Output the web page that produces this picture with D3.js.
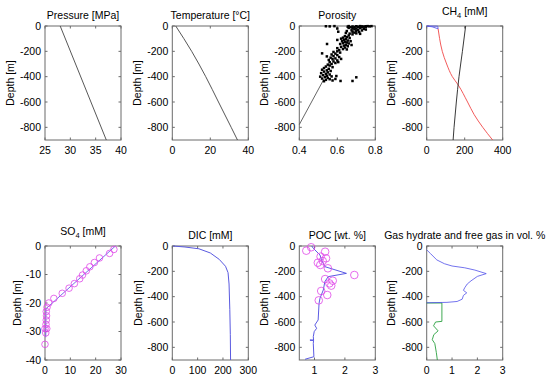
<!DOCTYPE html>
<html>
<head>
<meta charset="utf-8">
<script src="https://cdn.jsdelivr.net/npm/d3@7"></script>
<style>
  body { margin: 0; background: #fff; }
  text { font-family: "Liberation Sans", Arial, sans-serif; fill: #000; }
</style>
</head>
<body>
<div id="chart"></div>
<script>
// Data: [value, depth]
const pressure = [[28.0, 0], [37.1, -900]];
const temperature = [[1.8, 0], [10.2, -200], [17.6, -400], [24.3, -600], [31.0, -800], [34.3, -900]];
const porosityModel = [[0.40, -778], [0.53, -418]];
const porosityData = [
  [0.54,-2],[0.56,-3],[0.585,-1],[0.66,-1],[0.68,-4],[0.70,-2],[0.71,-6],[0.72,-1],[0.73,-3],[0.74,-5],
  [0.75,-2],[0.76,-1],[0.77,-3],[0.78,-1],[0.69,-8],[0.73,-9],[0.75,-7],[0.655,-6],[0.67,-10],[0.72,-12],
  [0.66,-15],[0.68,-18],[0.70,-20],[0.72,-16],[0.74,-22],[0.69,-26],[0.71,-30],[0.675,-34],[0.70,-38],[0.73,-35],
  [0.65,-40],[0.68,-45],[0.715,-48],[0.69,-52],[0.70,-58],[0.665,-60],[0.72,-62],[0.68,-66],[0.645,-55],[0.75,-28],
  [0.60,-20],[0.605,-45],
  [0.66,-75],[0.64,-80],[0.65,-88],[0.63,-92],[0.665,-95],[0.62,-100],[0.645,-104],[0.635,-110],[0.655,-115],[0.625,-120],
  [0.64,-125],[0.65,-130],[0.63,-135],[0.66,-138],[0.615,-142],[0.645,-148],[0.635,-155],[0.655,-160],[0.62,-165],[0.64,-170],
  [0.60,-175],[0.63,-182],[0.61,-190],[0.65,-185],[0.675,-150],[0.67,-120],[0.546,-142],[0.60,-110],
  [0.60,-200],[0.58,-205],[0.615,-210],[0.59,-218],[0.57,-225],[0.60,-230],[0.58,-238],[0.61,-245],[0.565,-250],[0.59,-256],
  [0.575,-262],[0.555,-268],[0.60,-272],[0.58,-280],[0.56,-286],[0.59,-292],[0.57,-300],[0.55,-305],[0.62,-260],[0.52,-216],
  [0.545,-240],[0.605,-285],
  [0.56,-312],[0.54,-320],[0.575,-325],[0.53,-332],[0.555,-338],[0.52,-345],[0.545,-350],[0.565,-355],[0.53,-360],[0.55,-366],
  [0.515,-372],[0.54,-378],[0.56,-383],[0.525,-388],[0.545,-393],[0.57,-398],[0.535,-403],[0.55,-410],[0.52,-415],[0.56,-420],
  [0.54,-425],[0.575,-430],[0.59,-418],[0.595,-395],[0.51,-400],[0.53,-436],[0.617,-434],[0.68,-434],[0.70,-405]
];
const ch4Black = [[205, 0], [188, -200], [170, -400], [156, -600], [144, -800], [139, -900]];
const ch4Red = [[60, -22], [68, -100], [82, -200], [105, -300], [135, -400], [166, -466], [215, -600], [250, -700], [295, -800], [347, -900]];
const ch4Blue = [[0, 0], [58, -1], [60, -22], [28, -6], [0, -1]];
const so4Model = [[27.8, 0], [0.4, -22], [0.3, -32]];
const so4Data = [
  [27.2,-1.2],[25.5,-2.6],[21.5,-4.2],[19.5,-5.8],[17.7,-7.3],[16.3,-8.7],[14.8,-10.2],[13.7,-11.5],[11.6,-13.2],[9.5,-14.8],
  [6.8,-16.6],[3.5,-18.4],[1.5,-20],[0.8,-21.5],[0.5,-23],[0.6,-24.5],[0.5,-26],[0.4,-27.5],[0.7,-29],[0.0,-29],[0.3,-30.5],[0,-34.5]
];
const dic = [[3, 0], [50, -8], [105, -22], [150, -55], [185, -105], [210, -160], [220, -210], [224, -300], [227, -500], [229, -700], [230, -900]];
const pocModel = [
  [0.91,0],[0.96,-18],[1.18,-71],[1.23,-110],[1.34,-163],[2.05,-216],[1.45,-242],[1.34,-282],[1.29,-347],[1.18,-413],
  [1.15,-453],[1.12,-584],[1.01,-624],[1.07,-650],[0.99,-676],[0.96,-716],[0.97,-743],[0.85,-743],[0.97,-745],[0.96,-768],[0.98,-874],[0.69,-894]
];
const pocData = [
  [0.73,-37],[0.89,-10],[1.35,-45],[1.2,-84],[1.38,-97],[1.27,-118],[1.11,-132],[1.19,-150],[1.44,-176],[2.31,-229],
  [1.35,-261],[1.6,-274],[1.49,-295],[1.55,-313],[1.42,-387],[1.22,-355],[1.14,-429]
];
const hydrate = [
  [0,-30],[0.15,-60],[0.4,-110],[0.7,-140],[1.0,-158],[1.5,-172],[1.9,-190],[2.35,-218],[2.0,-240],[1.75,-275],
  [1.6,-300],[1.5,-330],[1.45,-350],[1.58,-370],[1.45,-390],[1.4,-420],[1.2,-438],[0.8,-445],[0,-448]
];
const freeGas = [[0,-450],[0.6,-450],[0.6,-595],[0.35,-600],[0.27,-630],[0.45,-670],[0.28,-700],[0.22,-740],[0.32,-770],[0.38,-840],[0.42,-900]];

const depthTicks = [0, -200, -400, -600, -800];
const so4DepthTicks = [0, -10, -20, -30, -40];

const W = 550, H = 379;
const colX = [45, 172.3, 299.3, 426.7];
const rowY = [26, 246];
const pw = 76, ph = 114;
const axisColor = "#6b6b6b";

const svg = d3.select("#chart").append("svg")
  .attr("width", W).attr("height", H);

function panel(opt) {
  const x0 = colX[opt.col], y0 = rowY[opt.row];
  const x = d3.scaleLinear().domain(opt.xDomain).range([x0, x0 + pw]);
  const y = d3.scaleLinear().domain(opt.yDomain).range([y0 + ph, y0]);
  const g = svg.append("g");

  // box with inward ticks on all four sides
  g.append("rect").attr("x", x0).attr("y", y0).attr("width", pw).attr("height", ph)
    .attr("fill", "none").attr("stroke", axisColor).attr("stroke-width", 1);
  const tl = 2.5;
  opt.xTicks.forEach(t => {
    const px = x(t);
    g.append("line").attr("x1", px).attr("x2", px).attr("y1", y0 + ph).attr("y2", y0 + ph - tl).attr("stroke", axisColor);
    g.append("line").attr("x1", px).attr("x2", px).attr("y1", y0).attr("y2", y0 + tl).attr("stroke", axisColor);
    g.append("text").attr("x", px).attr("y", y0 + ph + 13.5)
      .attr("text-anchor", "middle").style("font-size", "10.5px").text(t);
  });
  opt.yTicks.forEach(t => {
    const py = y(t);
    g.append("line").attr("x1", x0).attr("x2", x0 + tl).attr("y1", py).attr("y2", py).attr("stroke", axisColor);
    g.append("line").attr("x1", x0 + pw).attr("x2", x0 + pw - tl).attr("y1", py).attr("y2", py).attr("stroke", axisColor);
    g.append("text").attr("x", x0 - 4).attr("y", py + 3.8)
      .attr("text-anchor", "end").style("font-size", "10.5px").text(t);
  });

  // y label
  const lx = x0 - opt.labelOff, ly = y0 + ph / 2;
  g.append("text").attr("transform", `translate(${lx},${ly}) rotate(-90)`)
    .attr("text-anchor", "middle").attr("dy", "0.35em").style("font-size", "10.5px").text("Depth [m]");

  // title
  const cx = x0 + pw / 2;
  const tt = g.append("text").attr("x", cx).attr("text-anchor", "middle").style("font-size", "10.5px");
  if (opt.sub) {
    tt.attr("y", y0 - 11.5);
    tt.append("tspan").text(opt.title[0]);
    tt.append("tspan").attr("dy", 3).style("font-size", "7.5px").text(opt.title[1]);
    tt.append("tspan").attr("dy", -3).text(opt.title[2]);
  } else {
    tt.attr("y", y0 - 7.5).text(opt.title);
  }

  const line = d3.line().x(d => x(d[0])).y(d => y(d[1]));
  const smooth = d3.line().x(d => x(d[0])).y(d => y(d[1])).curve(d3.curveMonotoneY);
  return { g, x, y, line, smooth };
}

// Row 1
let p = panel({ col: 0, row: 0, xDomain: [25, 40], yDomain: [-900, 0], xTicks: [25, 30, 35, 40], yTicks: depthTicks, title: "Pressure [MPa]", labelOff: 35 });
p.g.append("path").attr("d", p.line(pressure)).attr("fill", "none").attr("stroke", "#444").attr("stroke-width", 0.9);

p = panel({ col: 1, row: 0, xDomain: [0, 40], yDomain: [-900, 0], xTicks: [0, 20, 40], yTicks: depthTicks, title: "Temperature [°C]", labelOff: 35 });
p.g.append("path").attr("d", p.smooth(temperature)).attr("fill", "none").attr("stroke", "#444").attr("stroke-width", 0.9);

p = panel({ col: 2, row: 0, xDomain: [0.4, 0.8], yDomain: [-900, 0], xTicks: [0.4, 0.6, 0.8], yTicks: depthTicks, title: "Porosity", labelOff: 35 });
p.g.append("path").attr("d", p.line(porosityModel)).attr("fill", "none").attr("stroke", "#555").attr("stroke-width", 0.9);
p.g.selectAll(".por").data(porosityData).enter().append("rect")
  .attr("x", d => p.x(d[0]) - 1.25).attr("y", d => p.y(d[1]) - 1.25)
  .attr("width", 2.5).attr("height", 2.5).attr("fill", "#000");

p = panel({ col: 3, row: 0, xDomain: [0, 400], yDomain: [-900, 0], xTicks: [0, 200, 400], yTicks: depthTicks, title: ["CH", "4", " [mM]"], sub: true, labelOff: 35 });
p.g.append("path").attr("d", p.line(ch4Blue)).attr("fill", "none").attr("stroke", "#5a5aee").attr("stroke-width", 0.9);
p.g.append("path").attr("d", p.smooth(ch4Red)).attr("fill", "none").attr("stroke", "#f04848").attr("stroke-width", 0.9);
p.g.append("path").attr("d", p.smooth(ch4Black)).attr("fill", "none").attr("stroke", "#222").attr("stroke-width", 0.9);

// Row 2
p = panel({ col: 0, row: 1, xDomain: [0, 30], yDomain: [-40, 0], xTicks: [0, 10, 20, 30], yTicks: so4DepthTicks, title: ["SO", "4", " [mM]"], sub: true, labelOff: 28 });
p.g.append("path").attr("d", p.line(so4Model)).attr("fill", "none").attr("stroke", "#6a5ae8").attr("stroke-width", 0.9);
p.g.selectAll(".so4").data(so4Data).enter().append("circle")
  .attr("cx", d => p.x(d[0])).attr("cy", d => p.y(d[1])).attr("r", 3.3)
  .attr("fill", "none").attr("stroke", "#e048e8").attr("stroke-width", 0.8);

p = panel({ col: 1, row: 1, xDomain: [0, 300], yDomain: [-900, 0], xTicks: [0, 100, 200, 300], yTicks: depthTicks, title: "DIC [mM]", labelOff: 34 });
p.g.append("path").attr("d", p.line(dic)).attr("fill", "none").attr("stroke", "#5a5ae0").attr("stroke-width", 1);

p = panel({ col: 2, row: 1, xDomain: [0.5, 3], yDomain: [-900, 0], xTicks: [1, 2, 3], yTicks: depthTicks, title: "POC [wt. %]", labelOff: 35 });
p.g.append("path").attr("d", p.line(pocModel)).attr("fill", "none").attr("stroke", "#4848e0").attr("stroke-width", 0.9);
p.g.selectAll(".poc").data(pocData).enter().append("circle")
  .attr("cx", d => p.x(d[0])).attr("cy", d => p.y(d[1])).attr("r", 3.8)
  .attr("fill", "none").attr("stroke", "#e048e8").attr("stroke-width", 0.8);

p = panel({ col: 3, row: 1, xDomain: [0, 3], yDomain: [-900, 0], xTicks: [0, 1, 2, 3], yTicks: depthTicks, title: "Gas hydrate and free gas in vol. %", labelOff: 35 });
p.g.append("path").attr("d", p.line(freeGas)).attr("fill", "none").attr("stroke", "#2aa040").attr("stroke-width", 0.9);
p.g.append("path").attr("d", p.line(hydrate)).attr("fill", "none").attr("stroke", "#4848e8").attr("stroke-width", 0.9).attr("opacity", 0.85);
</script>
</body>
</html>
